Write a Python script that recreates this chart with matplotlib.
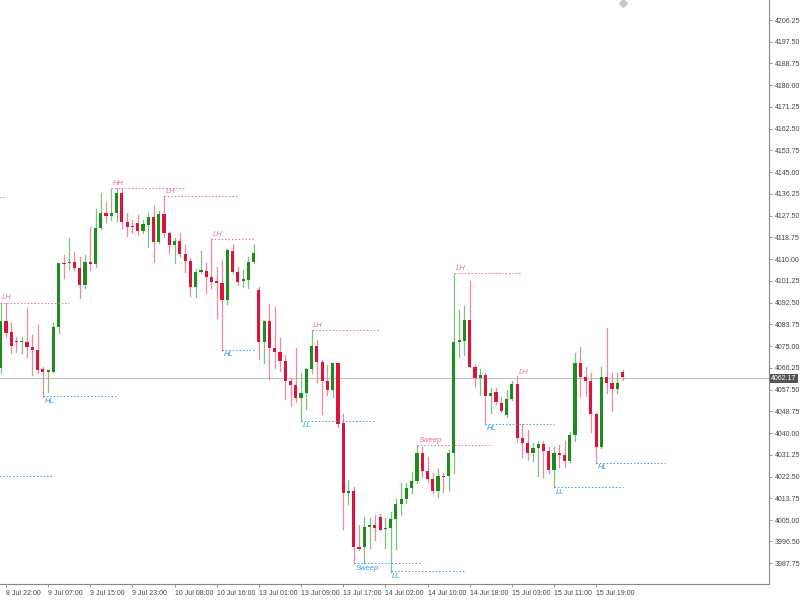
import matplotlib
matplotlib.use("Agg")
import matplotlib.pyplot as plt
from matplotlib.patches import Rectangle

plt.rcParams["font.family"] = ["Liberation Sans", "DejaVu Sans"]

# Hourly OHLC
opens = [4066.2, 4085.1, 4080.7, 4076.9, 4076.5, 4076.7, 4074.7, 4073.5, 4065.8, 4064.8,
         4064.6, 4082.7, 4108.5, 4108.5, 4108.9, 4106.5, 4099.6, 4108.9, 4108.1, 4122.6,
         4128.6, 4127.4, 4128.6, 4136.6, 4125.0, 4123.2, 4124.6, 4121.3, 4123.8, 4127.0,
         4116.9, 4128.2, 4120.5, 4115.7, 4117.3, 4112.1, 4109.3, 4098.8, 4105.0, 4105.2,
         4102.8, 4101.2, 4100.4, 4093.6, 4113.3, 4104.8, 4101.4, 4101.6, 4108.9, 4097.6,
         4076.7, 4085.1, 4074.3, 4072.7, 4069.0, 4061.0, 4059.4, 4054.1, 4056.2, 4065.8,
         4075.1, 4068.6, 4061.0, 4057.4, 4068.2, 4044.1, 4016.0, 4016.7, 3994.2, 3994.2,
         4002.2, 4003.0, 4006.3, 4001.4, 4001.8, 4005.5, 4011.5, 4013.5, 4017.9, 4020.7,
         4032.0, 4024.8, 4021.5, 4016.7, 4022.8, 4022.8, 4032.0, 4076.7, 4077.1, 4085.5,
         4066.6, 4062.2, 4063.4, 4054.9, 4056.6, 4052.1, 4047.3, 4053.7, 4059.8, 4038.0,
         4036.0, 4032.0, 4034.0, 4035.6, 4032.8, 4025.2, 4032.0, 4031.2, 4028.8, 4039.3,
         4068.2, 4062.6, 4061.0, 4047.7, 4034.4, 4062.6, 4060.2, 4057.8, 4064.6]
highs = [4092.4, 4092.4, 4084.3, 4078.7, 4078.7, 4090.4, 4079.5, 4083.5, 4066.6, 4065.4,
         4084.7, 4108.5, 4111.7, 4118.5, 4112.9, 4110.9, 4111.7, 4123.0, 4130.2, 4136.6,
         4133.0, 4138.2, 4138.6, 4138.6, 4128.6, 4125.8, 4127.8, 4125.8, 4128.6, 4131.8,
         4129.4, 4135.4, 4120.9, 4118.5, 4120.5, 4115.7, 4110.5, 4106.1, 4113.3, 4108.5,
         4118.1, 4106.9, 4109.7, 4114.1, 4116.1, 4106.9, 4105.6, 4110.9, 4115.7, 4098.8,
         4085.1, 4092.0, 4090.8, 4078.3, 4071.4, 4062.2, 4074.3, 4064.2, 4066.2, 4081.5,
         4077.5, 4069.4, 4067.4, 4068.2, 4068.2, 4047.7, 4021.1, 4018.3, 4003.0, 4006.3,
         4005.9, 4007.1, 4007.5, 4005.9, 4008.3, 4013.5, 4019.9, 4019.9, 4024.4, 4035.2,
         4034.4, 4030.4, 4024.0, 4025.6, 4024.0, 4033.2, 4104.0, 4089.6, 4091.2, 4101.2,
         4067.4, 4065.8, 4064.2, 4058.2, 4058.2, 4054.5, 4057.4, 4061.0, 4063.0, 4043.7,
         4041.3, 4036.0, 4036.8, 4036.8, 4034.4, 4034.4, 4035.2, 4036.8, 4040.5, 4072.3,
         4074.7, 4066.6, 4064.2, 4048.1, 4066.6, 4082.3, 4064.2, 4064.2, 4065.4]
lows = [4064.2, 4078.7, 4072.3, 4072.7, 4072.3, 4070.6, 4063.4, 4064.2, 4054.5, 4056.6,
        4064.6, 4080.3, 4102.4, 4106.1, 4105.6, 4094.4, 4098.4, 4105.6, 4106.9, 4122.2,
        4125.0, 4125.8, 4125.4, 4122.6, 4119.3, 4120.5, 4119.7, 4120.5, 4114.9, 4108.9,
        4116.5, 4118.9, 4112.5, 4108.5, 4110.9, 4104.8, 4095.2, 4094.8, 4104.4, 4096.4,
        4098.4, 4086.3, 4073.5, 4092.0, 4104.4, 4099.6, 4098.8, 4098.4, 4108.5, 4069.8,
        4068.2, 4061.8, 4066.2, 4065.0, 4053.7, 4050.9, 4052.5, 4044.9, 4049.7, 4064.2,
        4060.6, 4047.7, 4055.3, 4054.5, 4042.5, 4001.4, 4011.5, 3987.7, 3993.0, 3987.7,
        3993.8, 3997.0, 4001.0, 3993.8, 3984.1, 3993.4, 4007.1, 4011.9, 4015.9, 4019.9,
        4022.3, 4020.3, 4015.9, 4014.3, 4016.3, 4017.1, 4024.0, 4070.6, 4071.4, 4066.6,
        4058.6, 4055.3, 4043.7, 4048.1, 4051.7, 4048.5, 4046.5, 4053.3, 4036.4, 4030.4,
        4029.2, 4028.8, 4022.8, 4022.3, 4024.0, 4018.3, 4026.4, 4026.4, 4028.4, 4036.8,
        4054.5, 4054.9, 4040.5, 4028.0, 4034.0, 4056.2, 4048.9, 4056.2, 4061.4]
closes = [4085.1, 4080.3, 4075.1, 4076.7, 4076.7, 4074.7, 4073.5, 4065.4, 4064.6, 4065.0,
          4082.7, 4108.5, 4108.1, 4108.9, 4106.5, 4099.6, 4108.9, 4108.1, 4122.6, 4128.6,
          4127.4, 4128.6, 4136.6, 4125.0, 4123.0, 4123.0, 4121.3, 4124.2, 4127.0, 4116.9,
          4128.2, 4120.5, 4115.7, 4117.3, 4112.1, 4109.3, 4098.8, 4104.8, 4105.2, 4102.8,
          4100.8, 4100.4, 4093.6, 4113.7, 4104.8, 4100.8, 4101.6, 4108.9, 4112.5, 4076.7,
          4085.1, 4074.3, 4072.7, 4069.0, 4061.0, 4059.4, 4054.1, 4056.2, 4065.8, 4075.1,
          4068.6, 4061.0, 4057.4, 4068.2, 4043.7, 4015.9, 4016.7, 3994.2, 3993.4, 4002.2,
          4003.0, 4001.8, 4001.0, 4001.8, 4005.5, 4011.5, 4013.5, 4017.9, 4020.7, 4032.0,
          4024.8, 4021.5, 4016.7, 4022.8, 4022.3, 4032.0, 4076.7, 4077.5, 4085.5, 4066.6,
          4062.2, 4063.4, 4054.9, 4056.2, 4052.5, 4048.9, 4053.7, 4059.8, 4038.0, 4036.0,
          4032.0, 4034.0, 4035.6, 4032.8, 4025.2, 4032.0, 4031.2, 4028.8, 4039.3, 4068.2,
          4062.6, 4061.0, 4047.7, 4034.4, 4062.6, 4060.2, 4057.8, 4060.2, 4062.6]

# Swing structure levels
lvl_labels = ["", "LH", "HL", "", "HH", "LH", "LH", "HL", "LL", "LH", "Sweep", "LL",
              "Sweep", "LH", "HL", "LL", "HL"]
lvl_start = [-1, -0.1, 8, -1, 21, 31, 40, 42, 57, 59, 67, 74, 79, 86, 92, 105, 113]
lvl_end = [1, 13, 22, 10, 35, 45, 48, 48, 71, 72, 80, 88, 93, 99, 105, 118, 126]
lvl_price = [4135.0, 4092.4, 4054.9, 4022.8, 4138.6, 4135.4, 4118.1, 4073.5, 4044.9, 4081.5,
             3987.7, 3984.4, 4035.2, 4104.4, 4043.7, 4018.3, 4028.0]
lvl_kind = ["hi", "hi", "lo", "lo", "hi", "hi", "hi", "lo", "lo", "hi", "lo", "lo",
            "hi", "hi", "lo", "lo", "lo"]
extra_label = ("LH", 98, 4063.0)

price_ticks = [4206.25, 4197.50, 4188.75, 4180.00, 4171.25, 4162.50, 4153.75, 4145.00,
               4136.25, 4127.50, 4118.75, 4110.00, 4101.25, 4092.50, 4083.75, 4075.00,
               4066.25, 4057.50, 4048.75, 4040.00, 4031.25, 4022.50, 4013.75, 4005.00,
               3996.50, 3987.75]
time_ticks = list(range(1, 120, 8))
time_labels = ["8 Jul 22:00", "9 Jul 07:00", "9 Jul 15:00", "9 Jul 23:00", "10 Jul 08:00",
               "10 Jul 16:00", "13 Jul 01:00", "13 Jul 09:00", "13 Jul 17:00", "14 Jul 02:00",
               "14 Jul 10:00", "14 Jul 18:00", "15 Jul 03:00", "15 Jul 11:00", "15 Jul 19:00"]
last_price = 4062.17

UP, DOWN = "#1f8a1f", "#dc143c"
UP_W, DOWN_W = "#7cc47c", "#ee8aa2"
HI_C, LO_C = "#ec6f98", "#3d9be9"
FS = 5

fig = plt.figure(figsize=(8, 6), dpi=100)
ax = fig.add_axes([0, 16 / 600, 769 / 800, 584 / 600])
ax.set_xlim(-0.13, 145.8)
ax.set_ylim(3979.3, 4214.3)

ax.axhline(last_price, color="#c0c0c0", lw=0.8, zorder=0)

for i, (o, h, l, c) in enumerate(zip(opens, highs, lows, closes)):
    up = c >= o
    ax.plot([i, i], [l, h], color=UP_W if up else DOWN_W, lw=0.9, zorder=1)
    lo, hi = min(o, c), max(o, c)
    ax.add_patch(Rectangle((i - 0.3, lo), 0.6, max(hi - lo, 0.5),
                           color=UP if up else DOWN, lw=0, zorder=2))

for lab, s, e, p, k in zip(lvl_labels, lvl_start, lvl_end, lvl_price, lvl_kind):
    col = HI_C if k == "hi" else LO_C
    ax.plot([s, e], [p, p], color=col, lw=0.7, ls=(0, (1.5, 2)), zorder=3)
    if lab:
        ax.text(s + 0.3, p + (0.6 if k == "hi" else -0.6), lab, color=col, fontsize=FS + 0.5,
                style="italic", va="bottom" if k == "hi" else "top", ha="left")
lab, s, p = extra_label
ax.text(s + 0.3, p, lab, color=HI_C, fontsize=FS + 0.5, style="italic", va="bottom")

ax.yaxis.tick_right()
ax.set_yticks(price_ticks)
ax.set_yticklabels([f"{v:.2f}" for v in price_ticks], fontsize=FS, color="#444444")
ax.set_xticks(time_ticks)
ax.set_xticklabels(time_labels, fontsize=FS, color="#444444", ha="left")
ax.tick_params(axis="both", length=2.5, width=0.6, color="#888888", pad=1.5)
for side in ("left", "top"):
    ax.spines[side].set_visible(False)
for side in ("right", "bottom"):
    ax.spines[side].set_color("#888888")
    ax.spines[side].set_linewidth(0.8)

ax.text(1.003, last_price, f"{last_price:.2f}", transform=ax.get_yaxis_transform(),
        fontsize=FS, color="white", va="center", ha="left",
        bbox=dict(boxstyle="square,pad=0.15", fc="#555555", ec="none"))
ax.plot([118], [4213], marker="D", color="#c8c8c8", ms=4, clip_on=False)

fig.savefig("out.png", dpi=100)
